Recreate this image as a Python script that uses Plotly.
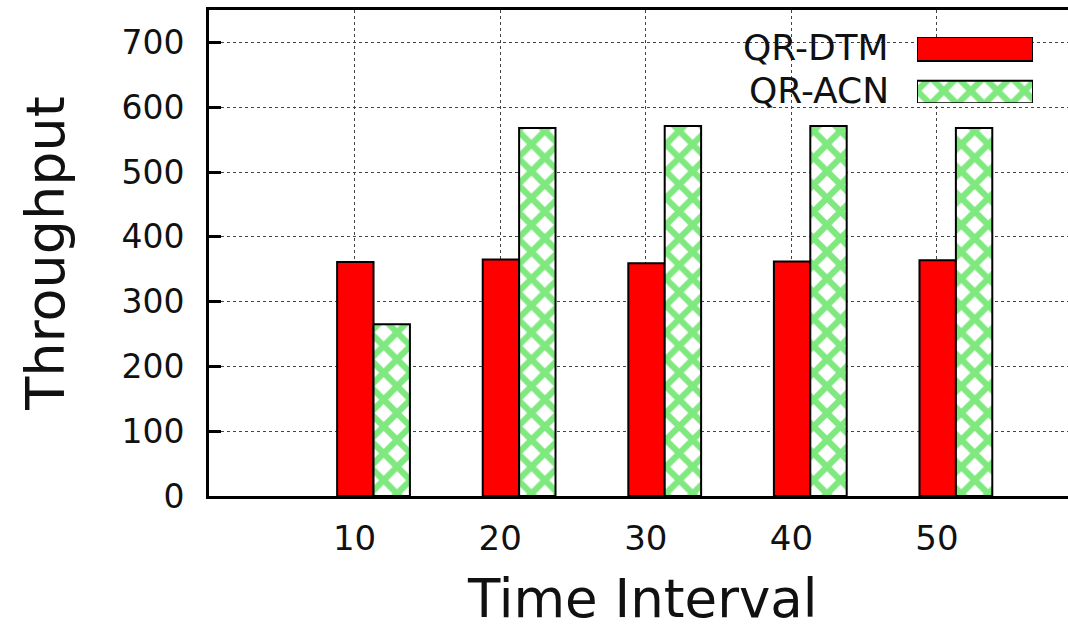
import plotly.graph_objects as go

# ---- data ----
time_interval = [10, 20, 30, 40, 50]
qr_dtm = [361, 365, 359, 362, 364]
qr_acn = [265, 568, 571, 571, 568]
series_names = ["QR-DTM", "QR-ACN"]
y_ticks = [0, 100, 200, 300, 400, 500, 600, 700]
x_title = "Time Interval"
y_title = "Throughput"
legend_key = [1]

FONT = "DejaVu Sans"
RED = "#ff0000"
GREEN = "#00d400"

pattern = dict(shape="x", fgcolor=GREEN, bgcolor="white",
               size=19, solidity=0.55, fillmode="overlay")

fig = go.Figure()

bar_w = 2.5
fig.add_trace(go.Bar(
    x=time_interval, y=qr_dtm, name=series_names[0],
    width=bar_w, offset=-1.2,
    marker=dict(color=RED, line=dict(color="black", width=2)),
    showlegend=False,
))
fig.add_trace(go.Bar(
    x=time_interval, y=qr_acn, name=series_names[1],
    width=bar_w, offset=1.3,
    marker=dict(color="white", line=dict(color="black", width=2), pattern=pattern),
    showlegend=False,
))

# ---- custom legend keys (text left, swatch right) ----
fig.add_trace(go.Bar(
    x=legend_key, y=[1], orientation="h", width=0.56,
    marker=dict(color=RED, line=dict(color="black", width=2)),
    xaxis="x2", yaxis="y2", showlegend=False, hoverinfo="skip",
))
fig.add_trace(go.Bar(
    x=legend_key, y=[0], orientation="h", width=0.52,
    marker=dict(color="white", line=dict(color="black", width=2), pattern=pattern),
    xaxis="x2", yaxis="y2", showlegend=False, hoverinfo="skip",
))

W, H = 1068, 629
L, R, T, B = 209, 0, 10, 133
pw = W - L - R
ph = H - T - B

def px(xp):
    return (xp - L) / pw

def py(yp):
    return (H - B - yp) / ph

fig.update_layout(
    width=W, height=H,
    margin=dict(l=L, r=R, t=T, b=B),
    paper_bgcolor="white", plot_bgcolor="white",
    barmode="overlay",
    font=dict(family=FONT, color="#111111"),
    xaxis=dict(
        range=[0, 59], tickvals=time_interval,
        ticktext=[str(v) for v in time_interval],
        ticks="", showline=True, linecolor="black", linewidth=3, mirror=True,
        showgrid=True, gridcolor="#444444", griddash="dot", gridwidth=1,
        zeroline=False, tickfont=dict(size=34, family=FONT),
        ticklabelstandoff=10,
    ),
    yaxis=dict(
        range=[0, 750], tickvals=y_ticks,
        ticks="inside", ticklen=12, tickwidth=2.5, tickcolor="black",
        showline=True, linecolor="black", linewidth=3, mirror=False,
        showgrid=True, gridcolor="#444444", griddash="dot", gridwidth=1,
        zeroline=False, tickfont=dict(size=33, family=FONT),
        ticklabelstandoff=15,
        title=dict(text=y_title, font=dict(size=54, family=FONT), standoff=40),
    ),
    xaxis2=dict(domain=[px(917), px(1033)], range=[0, 1], anchor="y2",
                visible=False, fixedrange=True),
    yaxis2=dict(domain=[py(103), py(37)], range=[-0.256, 1.279], anchor="x2",
                visible=False, fixedrange=True),
    shapes=[dict(type="rect", xref="paper", yref="paper",
                 x0=px(735), x1=px(1050), y0=py(112), y1=py(25),
                 fillcolor="white", line=dict(width=0), layer="between")],
    annotations=[
        dict(text=series_names[0], xref="paper", yref="paper",
             x=px(891), y=py(48), xanchor="right", yanchor="middle",
             showarrow=False, font=dict(size=36, family=FONT, color="#111111")),
        dict(text=series_names[1], xref="paper", yref="paper",
             x=px(891), y=py(91), xanchor="right", yanchor="middle",
             showarrow=False, font=dict(size=36, family=FONT, color="#111111")),
        dict(text=x_title, xref="paper", yref="paper",
             x=px(642), y=py(598), xanchor="center", yanchor="middle",
             showarrow=False, font=dict(size=53, family=FONT, color="#111111")),
    ],
)

fig.write_html(
    "out.html",
    config={"displayModeBar": False},
    post_script="document.body.style.margin='0';document.body.style.overflow='hidden';",
)
